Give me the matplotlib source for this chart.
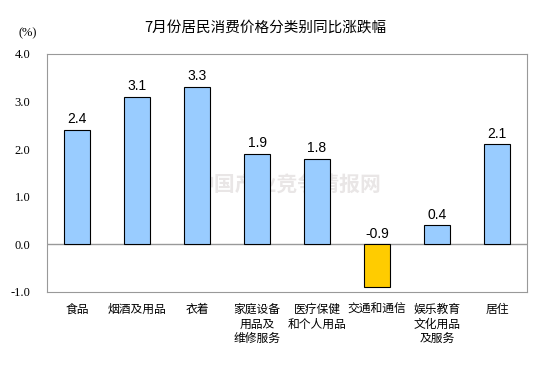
import matplotlib.pyplot as plt

plt.rcParams['font.family'] = ['Noto Sans CJK SC', 'DejaVu Sans']

categories = ['食品', '烟酒及用品', '衣着', '家庭设备\n用品及\n维修服务', '医疗保健\n和个人用品',
              '交通和通信', '娱乐教育\n文化用品\n及服务', '居住']
values = [2.4, 3.1, 3.3, 1.9, 1.8, -0.9, 0.4, 2.1]
yticks = [-1.0, 0.0, 1.0, 2.0, 3.0, 4.0]

fig = plt.figure(figsize=(5.44, 3.67), dpi=100)
ax = fig.add_axes([0.0864, 0.2044, 0.8824, 0.6486])

colors = ['#FFCC00' if v < 0 else '#99CCFF' for v in values]
x = range(len(values))
ax.bar(x, values, width=0.42, color=colors, edgecolor='black', linewidth=0.8, zorder=3)
ax.axhline(0, color='#999999', linewidth=1, zorder=2)

for i, v in enumerate(values):
    ax.text(i, v + 0.08 if v >= 0 else 0.08, f'{v:.1f}', ha='center', va='bottom',
            fontsize=10, family=['Liberation Sans'], zorder=4)

ax.set_xlim(-0.5, len(values) - 0.5)
ax.set_ylim(-1.0, 4.0)
ax.set_yticks(yticks)
ax.set_yticklabels([f'{t:.1f}' for t in yticks], family=['Liberation Serif'], fontsize=9)
ax.set_xticks(list(x))
ax.set_xticklabels(categories, fontsize=8.5, linespacing=1.15, va='top')
ax.tick_params(axis='both', length=0, pad=8)
ax.tick_params(axis='y', pad=12)
for s in ax.spines.values():
    s.set_color('#999999')

# watermark behind the bars
ax.text(0.5, 0.45, '中国产业竞争情报网', transform=ax.transAxes, ha='center', va='center',
        fontsize=15, color='#e9e6e6', weight='bold', zorder=1)

fig.text(0.487, 0.925, '7月份居民消费价格分类别同比涨跌幅', ha='center', va='center', fontsize=10.5)
fig.text(0.05, 0.91, '(%)', ha='center', va='center', fontsize=9, family=['Liberation Serif'])

fig.savefig('out.png', dpi=100)
